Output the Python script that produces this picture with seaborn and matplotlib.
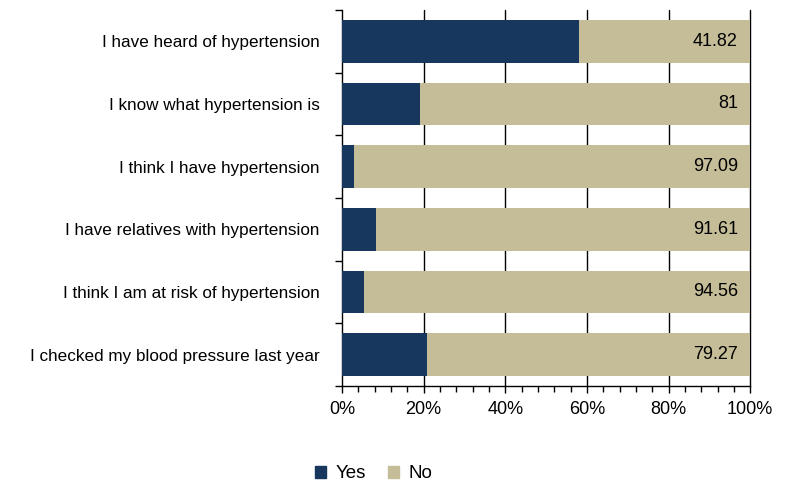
import numpy as np
import pandas as pd
import matplotlib
matplotlib.use('Agg')
import matplotlib.pyplot as plt
import matplotlib.patches as mpatches
from matplotlib.ticker import MultipleLocator, FixedLocator, PercentFormatter
import seaborn as sns

# ============ DATA ============
questions = [
    'I have heard of hypertension',
    'I know what hypertension is',
    'I think I have hypertension',
    'I have relatives with hypertension',
    'I think I am at risk of hypertension',
    'I checked my blood pressure last year',
]
no_pct  = [41.82, 81, 97.09, 91.61, 94.56, 79.27]
yes_pct = [58.18, 19, 2.91, 8.39, 5.44, 20.73]
no_labels = ['41.82', '81', '97.09', '91.61', '94.56', '79.27']

COL_YES = '#17375E'
COL_NO  = '#C4BD97'

df = pd.DataFrame({'question': questions, 'Yes': yes_pct, 'No': no_pct})
df['total'] = df['Yes'] + df['No']

sns.set_style('white')
plt.rcParams['font.family'] = ['Liberation Sans', 'DejaVu Sans']
plt.rcParams['text.color'] = 'black'
plt.rcParams['xtick.color'] = 'black'
plt.rcParams['ytick.color'] = 'black'
plt.rcParams['axes.labelcolor'] = 'black'

fig = plt.figure(figsize=(7.88, 4.92), dpi=100)
ax = fig.add_axes([0.434, 0.2154, 0.518, 0.7646])

# gridlines behind bars
for x in [20, 40, 60, 80, 100]:
    ax.axvline(x, color='black', linewidth=1.0, zorder=0, clip_on=False)

# stacked: full bar (No) first, then Yes on top
sns.barplot(data=df, y='question', x='total', color=COL_NO, width=0.68,
            orient='h', ax=ax, zorder=2, saturation=1, linewidth=0)
sns.barplot(data=df, y='question', x='Yes', color=COL_YES, width=0.68,
            orient='h', ax=ax, zorder=3, saturation=1, linewidth=0)

for i, lab in enumerate(no_labels):
    ax.text(97, i, lab, ha='right', va='center', fontsize=13, color='black', zorder=4)

ax.set_xlim(0, 100)
ax.set_ylim(5.5, -0.5)
ax.xaxis.set_major_locator(MultipleLocator(20))
ax.xaxis.set_minor_locator(MultipleLocator(4))
ax.xaxis.set_major_formatter(PercentFormatter(decimals=0))
ax.yaxis.set_minor_locator(FixedLocator(np.arange(-0.5, 6, 1)))

ax.tick_params(axis='x', which='major', direction='out', length=5, width=1,
               labelsize=13, pad=6, color='black', labelcolor='black', bottom=True)
ax.tick_params(axis='x', which='minor', direction='out', length=4, width=1,
               color='black', bottom=True)
ax.tick_params(axis='y', which='major', length=0, labelsize=12.3, pad=16,
               labelcolor='black')
ax.tick_params(axis='y', which='minor', direction='out', length=5, width=1,
               color='black', left=True)

ax.set_xlabel('')
ax.set_ylabel('')
for s in ['top', 'right']:
    ax.spines[s].set_visible(False)
for s in ['left', 'bottom']:
    ax.spines[s].set_color('black')
    ax.spines[s].set_linewidth(1.0)

handles = [mpatches.Patch(color=COL_YES, label='Yes'),
           mpatches.Patch(color=COL_NO, label='No')]
fig.legend(handles=handles, loc='center', bbox_to_anchor=(0.474, 0.037),
           ncol=2, frameon=False, fontsize=13.5, handlelength=0.6,
           handleheight=0.6, handletextpad=0.5, columnspacing=1.2,
           labelcolor='black')

plt.savefig('out.png', dpi=100)
